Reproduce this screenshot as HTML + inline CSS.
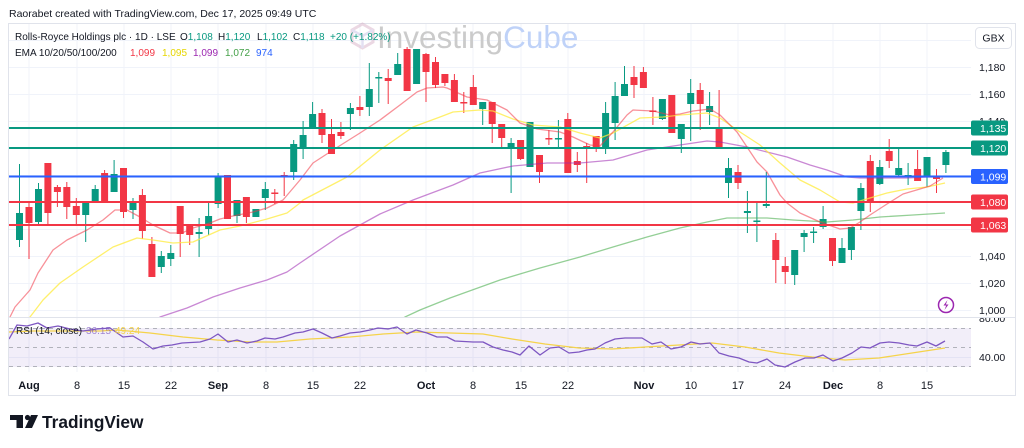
<!DOCTYPE html>
<html><head><meta charset="utf-8"><style>
html,body{margin:0;padding:0;background:#fff;width:1024px;height:448px;overflow:hidden}
svg{display:block}
text{font-family:"Liberation Sans",sans-serif}
</style></head><body>
<svg width="1024" height="448" viewBox="0 0 1024 448" xmlns="http://www.w3.org/2000/svg">
<rect width="1024" height="448" fill="#fff"/>
<text x="9" y="17" font-size="10.5" fill="#131722">Raorabet created with TradingView.com, Dec 17, 2025 09:49 UTC</text>
<rect x="8.5" y="23.5" width="1007" height="372" fill="none" stroke="#e0e3eb"/>
<defs>
<clipPath id="mp"><rect x="9" y="24" width="962" height="293"/></clipPath>
<clipPath id="rp"><rect x="9" y="318" width="962" height="56"/></clipPath>
<clipPath id="ra"><rect x="972" y="318" width="43" height="56"/></clipPath>
</defs>
<!-- grid -->
<g stroke="#f0f3fa" stroke-width="1">
<path d="M29 24V372M77 24V372M124 24V372M171 24V372M218 24V372M266 24V372M313 24V372M360 24V372M426 24V372M473 24V372M521 24V372M568 24V372M644 24V372M691 24V372M738 24V372M785 24V372M833 24V372M880 24V372M927 24V372"/>
<path d="M9 40.5H971M9 67.5H971M9 94.5H971M9 121.5H971M9 148.5H971M9 175.5H971M9 202.5H971M9 229.5H971M9 256.5H971M9 283.5H971M9 310.5H971M9 357.5H971"/>
</g>
<!-- watermark -->
<g opacity="0.5">
<path d="M362.5 24 L373 30 L373 42 L362.5 48 L352 42 L352 30 Z" fill="none" stroke="#d9b3c9" stroke-width="3"/>
<path d="M352 30 L362.5 36 L373 30 M362.5 36 V48" fill="none" stroke="#c9c3e6" stroke-width="2.5"/>
</g>
<text x="377" y="48" font-size="31.5" fill="#cbcbcb">Investing<tspan fill="#bfd2f8">Cube</tspan></text>
<!-- legend -->
<g font-size="10" fill="#131722">
<text x="15" y="40">Rolls-Royce Holdings plc · 1D · LSE</text>
<text x="180" y="40">O<tspan fill="#089981">1,108</tspan></text>
<text x="218" y="40">H<tspan fill="#089981">1,120</tspan></text>
<text x="257" y="40">L<tspan fill="#089981">1,102</tspan></text>
<text x="293" y="40">C<tspan fill="#089981">1,118</tspan></text>
<text x="330" y="40" fill="#089981">+20 (+1.82%)</text>
<text x="15" y="56">EMA 10/20/50/100/200</text>
<text x="130" y="56" fill="#f23645">1,099</text>
<text x="162" y="56" fill="#e6d600">1,095</text>
<text x="193" y="56" fill="#9c27b0">1,099</text>
<text x="225" y="56" fill="#43a047">1,072</text>
<text x="256" y="56" fill="#2962ff">974</text>
</g>
<g clip-path="url(#mp)">
<!-- green wicks -->
<path stroke="#089981" stroke-width="1" fill="none" d="M19.5 164V247M38.5 183V226M85.7 201V242M95.2 185V203M114.1 160V192M133 198V219M161.3 251V273M170.8 245V266M199.1 218V257M208.6 201V235M218.1 173V208M237 200V223M255.9 209V217M265.3 182V210M293.7 140V180M303.1 121V159M312.6 102V128M350.4 103V130M369.3 63V116M378.8 72V103M397.7 53V75M416.6 49V84M482.7 102V125M511.1 138V193M530 122V167M558.4 120V147M605.6 102V154M615.1 82V140M624.5 66V96M662.4 99V120M681.3 124V153M690.7 79V141M709.6 92V125M728.5 158V198M747.4 191V233M756.9 203V242M766.3 172V208M794.7 250V285M804.1 230V252M813.6 227V243M823.1 206V229M842 238V263M851.4 227V260M860.9 183V230M879.8 160V185M898.7 148V177M908.1 163V185M927 157V187M945.9 150V173"/>
<!-- red wicks -->
<path stroke="#f23645" stroke-width="1" fill="none" d="M29 203V259M47.9 163V225M57.4 185V207M66.8 182V219M76.3 198V225M104.6 170V201M123.5 168V218M142.4 189V239M151.9 237V277M180.2 206V257M189.7 226V245M227.5 175V219M246.4 197V223M274.8 189V204M284.2 172V196M322 109V143M331.5 119V154M340.9 122V139M359.9 96V116M388.2 69V104M407.1 47V91M426 53V102M435.5 57V88M444.9 74V86M454.4 74V102M463.8 92V113M473.3 75V105M492.2 102V143M501.7 124V149M520.6 140V160M539.5 155V183M548.9 130V145M567.8 113V173M577.3 152V172M586.7 143V183M596.2 136V152M634 66V98M643.4 67V88M652.9 97V125M671.8 95V133M700.2 83V130M719.1 90V148M738 165V189M775.8 233V283M785.2 257V284M832.5 238V266M870.3 155V212M889.2 139V168M917.6 150V181M936.5 169V193"/>
<!-- green bodies -->
<g fill="#089981">
<rect x="16" y="213" width="7" height="27"/>
<rect x="35" y="189" width="7" height="33"/>
<rect x="82.2" y="201" width="7" height="14"/>
<rect x="91.7" y="189" width="7" height="14"/>
<rect x="110.6" y="174" width="7" height="18"/>
<rect x="129.5" y="201" width="7" height="9"/>
<rect x="157.8" y="256" width="7" height="11"/>
<rect x="167.3" y="253" width="7" height="6"/>
<rect x="195.6" y="232" width="7" height="2"/>
<rect x="205.1" y="216" width="7" height="13"/>
<rect x="214.6" y="176" width="7" height="28"/>
<rect x="233.5" y="200" width="7" height="16"/>
<rect x="252.4" y="209" width="7" height="8"/>
<rect x="261.8" y="189" width="7" height="9"/>
<rect x="290.2" y="144" width="7" height="28"/>
<rect x="299.6" y="135" width="7" height="12"/>
<rect x="309.1" y="114" width="7" height="14"/>
<rect x="346.9" y="108" width="7" height="6"/>
<rect x="365.8" y="89" width="7" height="18"/>
<rect x="375.3" y="77" width="7" height="1.5"/>
<rect x="394.2" y="64" width="7" height="11"/>
<rect x="413.1" y="49" width="7" height="35"/>
<rect x="479.2" y="102" width="7" height="7"/>
<rect x="507.6" y="143" width="7" height="4"/>
<rect x="526.5" y="122" width="7" height="45"/>
<rect x="554.9" y="138" width="7" height="1.5"/>
<rect x="602.1" y="113" width="7" height="36"/>
<rect x="611.6" y="96" width="7" height="27"/>
<rect x="621" y="84" width="7" height="12"/>
<rect x="658.9" y="99" width="7" height="20"/>
<rect x="677.8" y="124" width="7" height="15"/>
<rect x="687.2" y="93" width="7" height="11"/>
<rect x="706.1" y="106" width="7" height="6"/>
<rect x="725" y="168" width="7" height="15"/>
<rect x="743.9" y="211" width="7" height="2"/>
<rect x="753.4" y="220.5" width="7" height="1.5"/>
<rect x="762.8" y="204" width="7" height="2"/>
<rect x="791.2" y="250" width="7" height="25"/>
<rect x="800.6" y="233" width="7" height="4"/>
<rect x="810.1" y="231.5" width="7" height="1.5"/>
<rect x="819.6" y="219" width="7" height="8"/>
<rect x="838.5" y="248" width="7" height="15"/>
<rect x="847.9" y="227" width="7" height="23"/>
<rect x="857.4" y="188" width="7" height="23"/>
<rect x="876.3" y="167" width="7" height="17"/>
<rect x="895.2" y="168" width="7" height="7"/>
<rect x="904.6" y="175" width="7" height="2"/>
<rect x="923.5" y="157" width="7" height="20"/>
<rect x="942.4" y="152" width="7" height="13"/>
</g>
<!-- red bodies -->
<g fill="#f23645">
<rect x="25.5" y="207" width="7" height="16"/>
<rect x="44.4" y="163" width="7" height="50"/>
<rect x="53.9" y="187" width="7" height="5"/>
<rect x="63.3" y="187" width="7" height="20"/>
<rect x="72.8" y="206" width="7" height="9"/>
<rect x="101.1" y="173" width="7" height="28"/>
<rect x="120" y="168" width="7" height="44"/>
<rect x="138.9" y="195" width="7" height="36"/>
<rect x="148.4" y="244" width="7" height="33"/>
<rect x="176.7" y="206" width="7" height="28"/>
<rect x="186.2" y="226" width="7" height="9"/>
<rect x="224" y="175" width="7" height="44"/>
<rect x="242.9" y="197" width="7" height="20"/>
<rect x="271.3" y="192.5" width="7" height="1.5"/>
<rect x="280.7" y="175" width="7" height="1.5"/>
<rect x="318.5" y="113" width="7" height="22"/>
<rect x="328" y="134" width="7" height="20"/>
<rect x="337.4" y="132" width="7" height="4"/>
<rect x="356.4" y="107" width="7" height="3"/>
<rect x="384.7" y="78" width="7" height="3"/>
<rect x="403.6" y="49" width="7" height="42"/>
<rect x="422.5" y="54" width="7" height="18"/>
<rect x="432" y="62" width="7" height="23"/>
<rect x="441.4" y="74" width="7" height="9"/>
<rect x="450.9" y="80" width="7" height="22"/>
<rect x="460.3" y="102" width="7" height="1.5"/>
<rect x="469.8" y="87" width="7" height="18"/>
<rect x="488.7" y="102" width="7" height="22"/>
<rect x="498.2" y="124" width="7" height="14"/>
<rect x="517.1" y="140" width="7" height="19"/>
<rect x="536" y="155" width="7" height="17"/>
<rect x="545.4" y="138" width="7" height="1.5"/>
<rect x="564.3" y="119" width="7" height="54"/>
<rect x="573.8" y="161" width="7" height="4"/>
<rect x="583.2" y="146" width="7" height="1.5"/>
<rect x="592.7" y="136" width="7" height="13"/>
<rect x="630.5" y="77" width="7" height="8"/>
<rect x="639.9" y="72" width="7" height="16"/>
<rect x="649.4" y="110.5" width="7" height="1.5"/>
<rect x="668.3" y="95" width="7" height="38"/>
<rect x="696.7" y="90" width="7" height="14"/>
<rect x="715.6" y="127" width="7" height="21"/>
<rect x="734.5" y="172" width="7" height="11"/>
<rect x="772.3" y="240" width="7" height="20"/>
<rect x="781.7" y="266" width="7" height="6"/>
<rect x="829" y="238" width="7" height="23"/>
<rect x="866.8" y="161" width="7" height="42"/>
<rect x="885.7" y="151" width="7" height="10"/>
<rect x="914.1" y="169" width="7" height="12"/>
<rect x="933" y="176" width="7" height="3"/>
</g>
<!-- EMAs -->
<g fill="none" stroke-width="1.3" stroke-linejoin="round">
<polyline stroke="#4caf50" stroke-opacity="0.6" points="400,320 405,317 420,310 450,298 500,280 540,268 580,257 613,247 647,237 680,228 707,222 727,218 747,218 767,218 793,220 827,222 853,220 880,217 913,215 945,213"/>
<polyline stroke="#9c27b0" stroke-opacity="0.55" points="158,320 160,317 187,308 213,297 240,288 267,280 287,272 300,263 340,236 380,214 413,200 453,185 480,173 513,166 547,163 580,163 613,160 647,150 680,145 707,141 720,142 747,147 767,152 787,157 810,165 827,170 847,177 860,178 887,178 907,178 927,177 943,177"/>
<polyline stroke="#ffeb3b" stroke-opacity="0.75" points="28,320 30,317 43,300 60,283 83,267 113,247 137,238 153,240 173,243 193,242 220,230 240,226 267,219 287,213 300,203 303,200 347,177 380,150 413,127 440,117 453,112 480,110 493,111 513,119 533,125 560,127 580,133 600,138 613,133 640,118 663,117 680,115 707,113 720,118 740,132 760,145 780,163 800,180 820,190 840,202 853,203 870,198 887,193 907,189 927,187 945,183"/>
<polyline stroke="#f23645" stroke-opacity="0.55" points="8,325 10,317 15,307 30,290 38,273 53,250 67,240 87,230 103,220 115,210 127,210 140,217 153,225 170,233 182,233 193,228 210,223 220,219 233,216 253,212 267,208 283,200 300,180 313,163 333,150 360,133 380,120 400,105 417,92 427,88 443,87 447,88 467,97 487,100 507,110 520,123 537,129 560,132 573,137 590,145 600,146 613,132 627,115 633,110 653,111 670,115 680,114 693,111 710,109 720,115 737,132 757,162 767,172 780,195 787,203 800,213 820,222 840,229 850,228 860,222 870,215 887,204 903,194 920,189 930,186 943,178"/>
</g>
<!-- level lines -->
<path d="M9 128H971M9 148H971" stroke="#089981" stroke-width="2"/>
<path d="M9 176.5H971" stroke="#2962ff" stroke-width="2"/>
<path d="M9 202H971M9 225H971" stroke="#f23645" stroke-width="2"/>
<!-- lightning icon -->
<circle cx="946" cy="305" r="7.5" fill="#fff" stroke="#9c27b0" stroke-width="1.5"/>
<path d="M947.5 300 L943.5 305.5 L946.2 305.5 L944.5 310 L948.5 304.5 L945.8 304.5 Z" fill="#9c27b0"/>
</g>
<!-- pane divider -->
<path d="M9 317.5H1015" stroke="#e0e3eb"/>
<!-- RSI pane -->
<g clip-path="url(#rp)">
<rect x="9" y="328" width="962" height="39" fill="#7e57c2" fill-opacity="0.1"/>
<path d="M9 328.5H971M9 347.5H971M9 366.5H971" stroke="#9598a1" stroke-opacity="0.7" stroke-dasharray="4 4"/>
<polyline fill="none" stroke="#f5d34a" stroke-width="1.3" points="9,332 33,331 67,331 100,331 117,330 150,333 183,337 217,340 250,342 277,342 310,339 350,337 383,334 417,332 450,333 483,334 512,339 545,344 579,348 612,349 645,347 679,345 712,343 745,347 779,353 812,357 845,360 879,358 912,353 945,348"/>
<polyline fill="none" stroke="#7e57c2" stroke-width="1.3" stroke-linejoin="round" points="9,339 17,325 27,326 38,323 47,328 58,326 70,329 83,331 97,329 110,328 123,337 133,336 143,342 153,349 163,346 172,345 182,343 200,342 210,339 218,334 228,342 237,340 247,343 257,341 265,338 275,339 283,337 295,333 303,332 313,329 322,333 332,338 340,336 350,333 360,332 370,330 378,328 388,329 397,327 407,334 416,330 427,333 437,337 447,337 455,341 473,342 483,342 493,347 503,350 512,352 520,355 529,346 540,355 550,348 559,347 569,353 579,352 587,350 595,349 605,343 615,339 625,338 642,338 652,344 661,342 671,349 681,347 691,342 700,344 710,343 719,353 729,356 739,358 749,362 757,363 767,359 775,365 785,367 795,362 805,358 814,358 823,355 833,361 842,358 852,353 861,347 870,348 880,343 889,342 899,343 909,345 917,346 927,342 936,346 945,341"/>
<text x="16" y="334" font-size="10" fill="#131722">RSI (14, close)</text>
<text x="86" y="334" font-size="10" fill="#7e57c2" fill-opacity="0.7">36.15</text>
<text x="115" y="334" font-size="10" fill="#f5d34a">49.24</text>
</g>
<!-- price axis -->
<g font-size="10.5" fill="#131722">
<text x="979" y="71">1,180</text>
<text x="979" y="98">1,160</text>
<text x="979" y="125">1,140</text>
<text x="979" y="260">1,040</text>
<text x="979" y="287">1,020</text>
<text x="979" y="314">1,000</text>
<g clip-path="url(#ra)"><text x="979" y="322">80.00</text></g>
<text x="979" y="361">40.00</text>
</g>
<g font-size="10.5" fill="#fff">
<rect x="971" y="120.5" width="37" height="15" rx="2" fill="#089981"/>
<text x="980" y="132">1,135</text>
<rect x="971" y="140.5" width="37" height="15" rx="2" fill="#089981"/>
<text x="980" y="152">1,120</text>
<rect x="971" y="169" width="37" height="15" rx="2" fill="#2962ff"/>
<text x="980" y="180.5">1,099</text>
<rect x="971" y="194.5" width="37" height="15" rx="2" fill="#f23645"/>
<text x="980" y="206">1,080</text>
<rect x="971" y="217.5" width="37" height="15" rx="2" fill="#f23645"/>
<text x="980" y="229">1,063</text>
</g>
<rect x="975.5" y="27.5" width="36" height="21" rx="4" fill="#fff" stroke="#e0e3eb"/>
<text x="993.5" y="41.5" font-size="10.5" fill="#131722" text-anchor="middle">GBX</text>
<!-- time axis -->
<g font-size="11" fill="#131722" text-anchor="middle">
<text x="29" y="389" font-weight="bold">Aug</text>
<text x="77" y="389">8</text>
<text x="124" y="389">15</text>
<text x="171" y="389">22</text>
<text x="218" y="389" font-weight="bold">Sep</text>
<text x="266" y="389">8</text>
<text x="313" y="389">15</text>
<text x="360" y="389">22</text>
<text x="426" y="389" font-weight="bold">Oct</text>
<text x="473" y="389">8</text>
<text x="521" y="389">15</text>
<text x="568" y="389">22</text>
<text x="644" y="389" font-weight="bold">Nov</text>
<text x="691" y="389">10</text>
<text x="738" y="389">17</text>
<text x="785" y="389">24</text>
<text x="833" y="389" font-weight="bold">Dec</text>
<text x="880" y="389">8</text>
<text x="927" y="389">15</text>
</g>
<!-- TradingView logo -->
<g fill="#131722">
<rect x="10" y="415" width="13" height="5"/>
<rect x="16.5" y="415" width="6.5" height="13"/>
<circle cx="27.5" cy="417.5" r="2.6"/>
<polygon points="31,415 38,415 32,428 25,428"/>
</g>
<text x="42" y="428" font-size="17.3" font-weight="bold" fill="#131722">TradingView</text>
</svg>
</body></html>
